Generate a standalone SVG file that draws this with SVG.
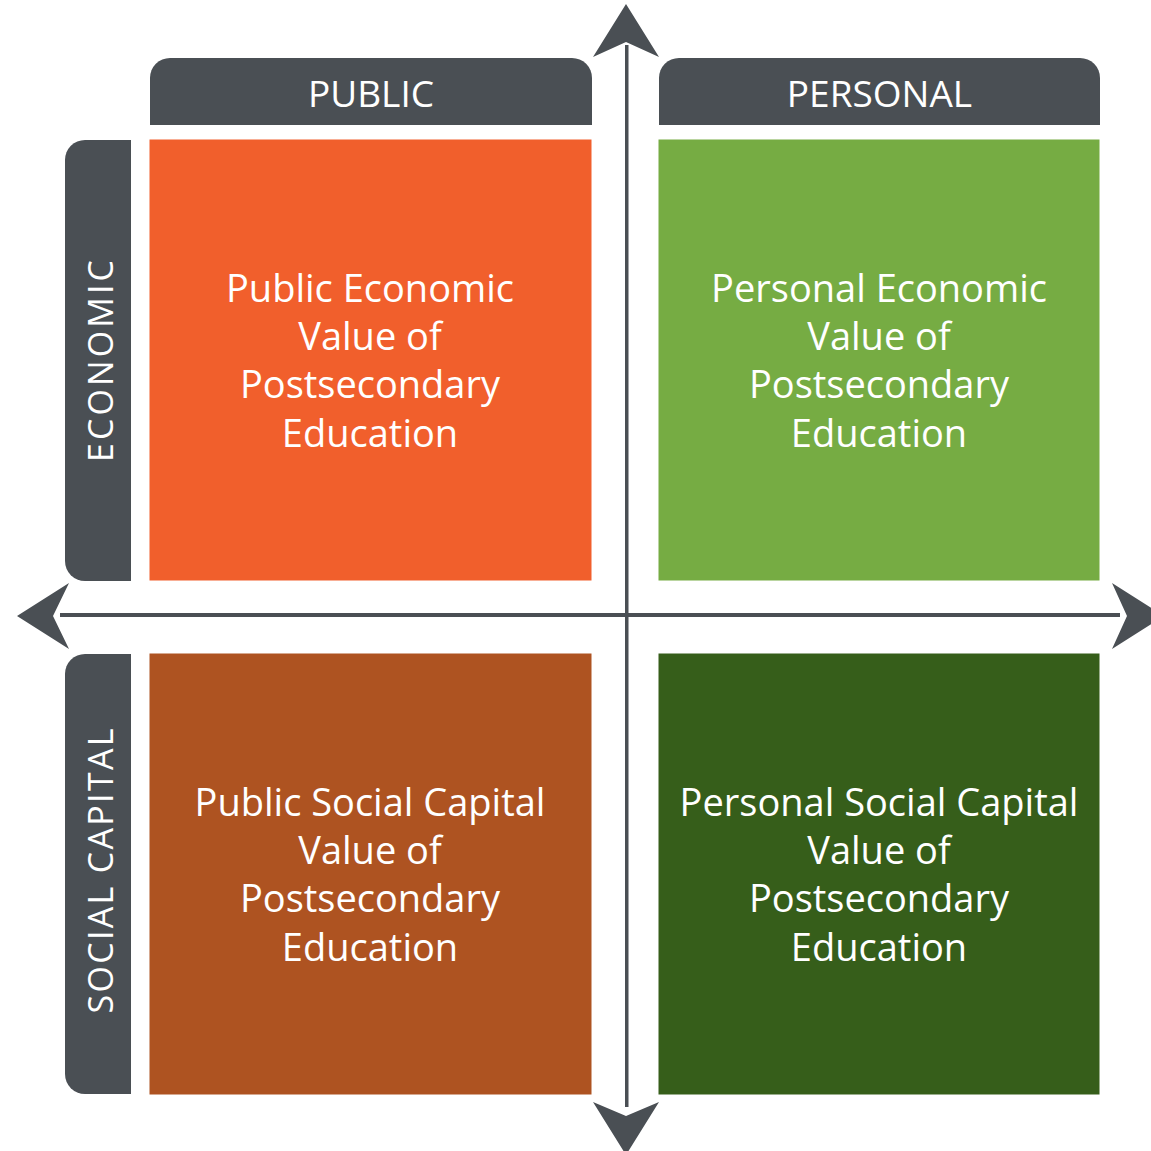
<svg xmlns="http://www.w3.org/2000/svg" width="1151" height="1151" viewBox="0 0 1151 1151">
<style>
.tab{fill:#4A4F54}
.hdr{font-family:"Open Sans","Noto Sans","Liberation Sans",sans-serif;fill:#FFFFFF;text-anchor:middle}
.q{font-family:"Open Sans","Noto Sans","Liberation Sans",sans-serif;fill:#FFFFFF;text-anchor:middle;font-size:38px}
.axis{fill:#4A4F54}
</style>
<rect width="1151" height="1151" fill="#FFFFFF"/>
<g id="header-public">
<path class="tab" d="M150,125 V78 A20,20 0 0 1 170,58 H572 A20,20 0 0 1 592,78 V125 Z"/>
<text class="hdr" x="371" y="107" font-size="37">PUBLIC</text>
</g>
<g id="header-personal">
<path class="tab" d="M659,125 V78 A20,20 0 0 1 679,58 H1080 A20,20 0 0 1 1100,78 V125 Z"/>
<text class="hdr" x="879.5" y="107" font-size="37">PERSONAL</text>
</g>
<g id="label-economic">
<path class="tab" d="M131,140 H85 A20,20 0 0 0 65,160 V561 A20,20 0 0 0 85,581 H131 Z"/>
<text class="hdr" transform="translate(113,361) rotate(-90)" font-size="34" textLength="202" lengthAdjust="spacing">ECONOMIC</text>
</g>
<g id="label-social">
<path class="tab" d="M131,654 H85 A20,20 0 0 0 65,674 V1074 A20,20 0 0 0 85,1094 H131 Z"/>
<text class="hdr" transform="translate(113,871) rotate(-90)" font-size="34" textLength="285" lengthAdjust="spacing">SOCIAL CAPITAL</text>
</g>
<g id="q-public-economic">
<rect x="149.5" y="139.5" width="442" height="441" fill="#F15F2C"/>
<text class="q"><tspan x="370" y="302">Public Economic</tspan><tspan x="370" y="350">Value of</tspan><tspan x="370" y="398">Postsecondary</tspan><tspan x="370" y="447">Education</tspan></text>
</g>
<g id="q-personal-economic">
<rect x="658.5" y="139.5" width="441" height="441" fill="#76AC43"/>
<text class="q"><tspan x="879" y="302">Personal Economic</tspan><tspan x="879" y="350">Value of</tspan><tspan x="879" y="398">Postsecondary</tspan><tspan x="879" y="447">Education</tspan></text>
</g>
<g id="q-public-social">
<rect x="149.5" y="653.5" width="442" height="441" fill="#AE5321"/>
<text class="q"><tspan x="370" y="816">Public Social Capital</tspan><tspan x="370" y="864">Value of</tspan><tspan x="370" y="912">Postsecondary</tspan><tspan x="370" y="961">Education</tspan></text>
</g>
<g id="q-personal-social">
<rect x="658.5" y="653.5" width="441" height="441" fill="#365E1A"/>
<text class="q"><tspan x="879" y="816">Personal Social Capital</tspan><tspan x="879" y="864">Value of</tspan><tspan x="879" y="912">Postsecondary</tspan><tspan x="879" y="961">Education</tspan></text>
</g>
<g id="connectors">
<rect class="axis" x="625" y="45" width="3.5" height="1062"/>
<rect class="axis" x="60" y="613" width="1060" height="4"/>
<polygon class="axis" points="626,4 659,57 626,42 593,57"/>
<polygon class="axis" points="593,1102 626,1116 659,1102 626,1155"/>
<polygon class="axis" points="17,616 69,583 53,616 69,649"/>
<polygon class="axis" points="1112,583 1164,616 1112,649 1127,616"/>
</g>
</svg>
